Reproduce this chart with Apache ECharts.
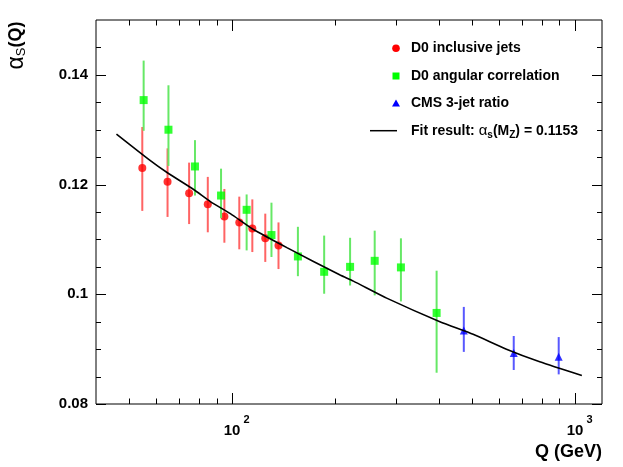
<!DOCTYPE html>
<html><head><meta charset="utf-8">
<script src="https://cdn.jsdelivr.net/npm/echarts@6/dist/echarts.min.js"></script>
<style>html,body{margin:0;padding:0;background:#fff}#c{width:623px;height:467px}</style>
</head><body><div id="c"></div>
<script>
// ---- data ----
const redQ  = [54.6, 64.7, 74.8, 84.8, 94.8, 104.8, 114.4, 124.8, 136.4];
const redA  = [0.1230, 0.1205, 0.1184, 0.1164, 0.1142, 0.1131, 0.1120, 0.1102, 0.1089];
const redLo = [0.1152, 0.1141, 0.1128, 0.1113, 0.1094, 0.1082, 0.1077, 0.1059, 0.1046];
const redHi = [0.1305, 0.1266, 0.1240, 0.1214, 0.1192, 0.1178, 0.1173, 0.1147, 0.1131];

const greenQ  = [55.1, 65.1, 77.8, 92.7, 110.1, 130.1, 155.4, 185.4, 220.7, 260.4, 310.6, 394.8];
const greenA  = [0.1354, 0.1300, 0.1233, 0.1180, 0.1154, 0.1108, 0.1069, 0.1041, 0.1050, 0.1061, 0.1049, 0.0966];
const greenLo = [0.1298, 0.1234, 0.1180, 0.1139, 0.1080, 0.1068, 0.1033, 0.1001, 0.1016, 0.0998, 0.0987, 0.0857];
const greenHi = [0.1426, 0.1381, 0.1281, 0.1229, 0.1182, 0.1167, 0.1123, 0.1107, 0.1103, 0.1116, 0.1102, 0.1043];

const blueQ  = [474, 663, 897];
const blueA  = [0.0934, 0.0893, 0.0886];
const blueLo = [0.0895, 0.0862, 0.0854];
const blueHi = [0.0977, 0.0924, 0.0922];

const fitQ = [45.9, 57.0, 64.5, 77.1, 86.3, 98.7, 115.3, 144.3, 206.4, 225.6, 282.2, 403.6, 504.6, 631.3, 789.5, 1048];
const fitA = [0.1292, 0.1246, 0.1222, 0.1191, 0.1169, 0.1147, 0.1118, 0.1085, 0.1035, 0.1024, 0.0993, 0.0950, 0.0927, 0.0900, 0.0877, 0.0852];

const xMajorTicks = [100, 1000];
const xLabelBase = '10';
const xLabelExponents = ['2', '3'];
const xMinorTicks = [50, 60, 70, 80, 90, 200, 300, 400, 500, 600, 700, 800, 900];
const yMajorTicks = [0.08, 0.10, 0.12, 0.14];
const yTickLabels = ['0.08', '0.1', '0.12', '0.14'];
const yMinorTicks = [0.085, 0.09, 0.095, 0.105, 0.11, 0.115, 0.125, 0.13, 0.135, 0.145];

const legendNames = ['D0 inclusive jets', 'D0 angular correlation', 'CMS 3-jet ratio'];
const fitLabel = 'Fit result: ';
const fitValue = '0.1153';

// ---- chart ----
const FONT = '"Liberation Sans", Arial, Helvetica, sans-serif';
const zip = (a, b) => a.map((v, i) => [v, b[i]]);
function errSeries(Q, lo, hi, color, z) {
  return {
    type: 'custom', z, silent: true,
    data: Q.map((q, i) => [q, lo[i], hi[i]]),
    encode: { x: 0, y: [1, 2] },
    renderItem(params, api) {
      const p1 = api.coord([api.value(0), api.value(1)]);
      const p2 = api.coord([api.value(0), api.value(2)]);
      return { type: 'line', shape: { x1: p1[0], y1: p1[1], x2: p2[0], y2: p2[1] },
               style: { stroke: color, lineWidth: 2 } };
    }
  };
}

const chart = echarts.init(document.getElementById('c'), null, { renderer: 'canvas' });
chart.setOption({
  animation: false,
  backgroundColor: '#fff',
  grid: { left: 96, top: 20, width: 506, height: 384, show: true, borderColor: '#000', borderWidth: 1, backgroundColor: 'transparent' },
  xAxis: {
    type: 'log', logBase: 10, min: 40, max: 1200,
    axisLine: { show: false }, axisTick: { show: false }, splitLine: { show: false }, minorTick: { show: false },
    axisLabel: { show: false }
  },
  yAxis: {
    type: 'value', min: 0.08, max: 0.15, interval: 0.02,
    axisLine: { show: false }, axisTick: { show: false }, splitLine: { show: false },
    axisLabel: {
      margin: 8, color: '#000', fontFamily: FONT, fontWeight: 'bold', fontSize: 15,
      showMinLabel: true, showMaxLabel: false, padding: [2, 0, 0, 0],
      formatter(v) {
        const k = yMajorTicks.findIndex(t => Math.abs(t - v) < 1e-9);
        return k >= 0 ? yTickLabels[k] : '';
      }
    }
  },
  series: [
    errSeries(redQ, redLo, redHi, '#ff6464', 2),
    { type: 'scatter', name: legendNames[0], data: zip(redQ, redA), symbol: 'circle', symbolSize: 8, itemStyle: { color: '#ff0000' }, z: 3, silent: true },
    errSeries(greenQ, greenLo, greenHi, '#66e866', 4),
    { type: 'scatter', name: legendNames[1], data: zip(greenQ, greenA), symbol: 'rect', symbolSize: 8, itemStyle: { color: '#00ff00' }, z: 5, silent: true },
    errSeries(blueQ, blueLo, blueHi, '#5858ff', 6),
    { type: 'scatter', name: legendNames[2], data: zip(blueQ, blueA), symbol: 'triangle', symbolSize: 8, itemStyle: { color: '#0000ff' }, z: 7, silent: true },
    { type: 'line', name: 'fit', data: zip(fitQ, fitA), symbol: 'none', smooth: 0.2, lineStyle: { color: '#000', width: 1.6 }, z: 10, silent: true },
    {
      type: 'custom', z: 20, silent: true, data: [[100, 0.1]],
      renderItem(params, api) {
        const cs = params.coordSys;
        const L = cs.x, T = cs.y, R = cs.x + cs.width, B = cs.y + cs.height;
        const ch = [];
        const add = (x1, y1, x2, y2) => ch.push({ type: 'line', shape: { x1, y1, x2, y2 }, style: { stroke: '#000', lineWidth: 1 } });
        const px = t => Math.round(api.coord([t, 0.1])[0]) + 0.5;
        const py = t => Math.round(api.coord([100, t])[1]) + 0.5;
        xMajorTicks.forEach((t, i) => {
          const x = px(t); add(x, B, x, B - 11); add(x, T, x, T + 11);
          ch.push({ type: 'text', x: x - 0.5, y: B + 26.5, style: { text: xLabelBase, font: 'bold 15px ' + FONT, fill: '#000', align: 'center', verticalAlign: 'middle' } });
          ch.push({ type: 'text', x: x + 11, y: B + 15.5, style: { text: xLabelExponents[i], font: 'bold 11px ' + FONT, fill: '#000', align: 'left', verticalAlign: 'middle' } });
        });
        xMinorTicks.forEach(t => { const x = px(t); add(x, B, x, B - 5.5); add(x, T, x, T + 5.5); });
        yMajorTicks.forEach(t => { const y = py(t); add(L, y, L + 10, y); add(R, y, R - 10, y); });
        yMinorTicks.forEach(t => { const y = py(t); add(L, y, L + 5, y); add(R, y, R - 5, y); });
        return { type: 'group', children: ch };
      }
    }
  ],
  graphic: [
    { type: 'circle', shape: { cx: 396, cy: 48.3, r: 3.8 }, style: { fill: '#ff0000' } },
    { type: 'rect', shape: { x: 392.5, y: 72.5, width: 7, height: 7 }, style: { fill: '#00ff00' } },
    { type: 'polygon', shape: { points: [[396, 99.5], [392, 106.5], [400, 106.5]] }, style: { fill: '#0000ff' } },
    { type: 'line', shape: { x1: 370, y1: 130.7, x2: 397, y2: 130.7 }, style: { stroke: '#000', lineWidth: 1.5 } },
    { type: 'text', x: 411, y: 48.5, style: { text: legendNames[0], font: 'bold 14px ' + FONT, fill: '#000', verticalAlign: 'middle' } },
    { type: 'text', x: 411, y: 76.2, style: { text: legendNames[1], font: 'bold 14px ' + FONT, fill: '#000', verticalAlign: 'middle' } },
    { type: 'text', x: 411, y: 103.5, style: { text: legendNames[2], font: 'bold 14px ' + FONT, fill: '#000', verticalAlign: 'middle' } },
    { type: 'text', x: 411, y: 131, style: {
        text: '{n|' + fitLabel + '}{g|α}{u|s}{n|(M}{u|Z}{n|) = ' + fitValue + '}',
        verticalAlign: 'middle', fill: '#000',
        rich: {
          n: { fontFamily: FONT, fontWeight: 'bold', fontSize: 14, lineHeight: 18, fill: '#000', color: '#000' },
          g: { fontFamily: FONT, fontWeight: 'normal', fontSize: 15, lineHeight: 18, fill: '#000', color: '#000' },
          u: { fontFamily: FONT, fontWeight: 'bold', fontSize: 10, lineHeight: 10, verticalAlign: 'bottom', fill: '#000', color: '#000' }
        } } },
    { type: 'text', x: 602, y: 452, style: { text: 'Q (GeV)', font: 'bold 18px ' + FONT, fill: '#000', align: 'right', verticalAlign: 'middle' } },
    { type: 'text', x: 16.5, y: 21.5, rotation: Math.PI / 2, style: {
        text: '{a|α}{s|S}{q|(Q)}', align: 'right', verticalAlign: 'middle', fill: '#000',
        rich: {
          a: { fontFamily: FONT, fontWeight: 'normal', fontSize: 23, lineHeight: 22, fill: '#000', color: '#000' },
          s: { fontFamily: FONT, fontWeight: 'normal', fontSize: 13, lineHeight: 12, verticalAlign: 'bottom', fill: '#000', color: '#000' },
          q: { fontFamily: FONT, fontWeight: 'bold', fontSize: 18, lineHeight: 22, fill: '#000', color: '#000' }
        } } }
  ]
});
</script>
</body></html>
